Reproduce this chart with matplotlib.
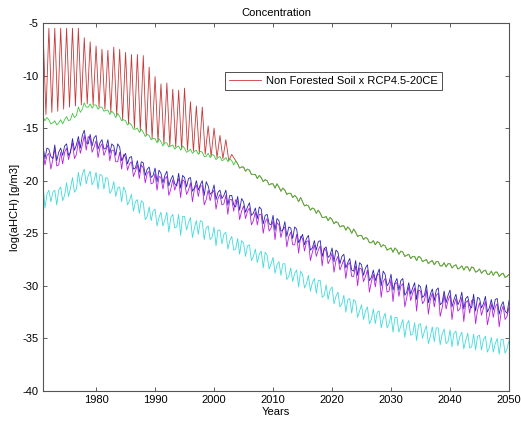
import numpy as np
import matplotlib
matplotlib.use("Agg")
import matplotlib.pyplot as plt

plt.rcParams['font.family'] = ['Liberation Sans', 'DejaVu Sans']
plt.rcParams['axes.unicode_minus'] = False

# years 1971..2050; three readings per year (high, low, middle)
years = np.arange(1971, 2051)

# Non Forested Soil (red): yearly spikes 1971..2003, troughs between them
red_peak_years = np.arange(1971, 2004)
red_peaks = [-5.5, -5.5, -5.5, -5.5, -5.5, -5.5, -5.5, -6.4, -6.8, -7.2,
             -7.5, -7.6, -7.3, -7.5, -7.8, -8.0, -8.0, -8.1, -9.2, -10.1,
             -10.8, -10.7, -11.3, -11.4, -11.2, -12.5, -12.9, -13.0, -14.8, -15.0,
             -15.7, -16.1, -17.5]
red_troughs = [-13.7, -13.5, -13.4, -13.2, -13.0, -12.9, -12.8, -12.7, -12.8, -13.0,
               -13.2, -13.5, -13.8, -14.2, -14.6, -15.0, -15.3, -15.7, -16.0, -16.3,
               -16.5, -16.7, -16.8, -17.0, -17.1, -17.2, -17.4, -17.5, -17.7, -17.8,
               -17.9, -18.1]

green_hi = [-13.9, -14.2, -14.3, -14.2, -13.9, -13.6, -13.0, -12.6, -12.7, -12.8,
            -13.0, -13.3, -13.6, -13.9, -14.3, -14.7, -15.0, -15.4, -15.7, -16.0,
            -16.3, -16.4, -16.6, -16.7, -16.9, -17.0, -17.1, -17.3, -17.4, -17.6,
            -17.7, -17.8, -18.1, -18.4, -18.7, -19.0, -19.4, -19.7, -20.0, -20.3,
            -20.6, -20.9, -21.2, -21.6, -22.0, -22.4, -22.7, -23.1, -23.4, -23.7,
            -24.0, -24.3, -24.6, -24.9, -25.2, -25.5, -25.7, -25.9, -26.2, -26.4,
            -26.6, -26.8, -27.0, -27.2, -27.3, -27.5, -27.6, -27.7, -27.8, -27.9,
            -28.0, -28.1, -28.2, -28.3, -28.4, -28.5, -28.6, -28.7, -28.8, -28.9]
green_lo = [-14.3, -14.6, -14.7, -14.6, -14.3, -14.0, -13.5, -13.0, -13.1, -13.2,
            -13.4, -13.7, -14.0, -14.3, -14.7, -15.1, -15.4, -15.8, -16.1, -16.4,
            -16.7, -16.8, -17.0, -17.1, -17.3, -17.4, -17.5, -17.7, -17.8, -18.0,
            -18.1, -18.2, -18.5, -18.8, -19.1, -19.4, -19.8, -20.1, -20.4, -20.7,
            -21.0, -21.3, -21.6, -22.0, -22.4, -22.8, -23.1, -23.5, -23.8, -24.1,
            -24.4, -24.7, -25.0, -25.3, -25.6, -25.9, -26.1, -26.3, -26.6, -26.8,
            -27.0, -27.2, -27.4, -27.6, -27.7, -27.9, -28.0, -28.1, -28.2, -28.3,
            -28.4, -28.5, -28.6, -28.7, -28.8, -28.9, -29.0, -29.1, -29.2, -29.3]
green_mid = [-14.0, -14.5, -14.5, -14.2, -14.2, -13.8, -13.2, -13.0, -12.8, -13.0,
             -13.3, -13.4, -13.6, -14.2, -14.5, -15.1, -15.1, -15.6, -16.0, -16.0,
             -16.4, -16.7, -16.8, -16.7, -17.2, -17.2, -17.2, -17.7, -17.5, -17.8,
             -18.0, -17.9, -18.1, -18.7, -18.9, -19.4, -19.5, -19.9, -20.3, -20.3,
             -20.7, -21.2, -21.4, -21.6, -22.3, -22.6, -22.8, -23.5, -23.5, -23.9,
             -24.3, -24.4, -24.6, -25.2, -25.4, -25.9, -25.8, -26.1, -26.5, -26.4,
             -26.7, -27.1, -27.2, -27.2, -27.6, -27.7, -27.7, -28.1, -27.9, -28.1,
             -28.3, -28.2, -28.2, -28.6, -28.6, -28.9, -28.7, -28.9, -29.1, -28.9]

blue_hi = [-16.7, -17.0, -16.6, -16.9, -16.5, -16.0, -15.8, -15.2, -15.6, -15.7,
           -16.1, -16.1, -16.7, -16.8, -17.4, -17.7, -18.1, -18.3, -18.7, -18.8,
           -19.3, -19.1, -19.5, -19.3, -19.7, -19.7, -20.0, -20.0, -20.5, -20.4,
           -20.9, -20.9, -21.4, -21.5, -22.0, -22.1, -22.6, -22.7, -23.2, -23.3,
           -23.8, -23.9, -24.5, -24.6, -25.1, -25.2, -25.7, -25.7, -26.3, -26.4,
           -26.8, -27.0, -27.4, -27.6, -28.0, -28.0, -28.5, -28.4, -28.9, -28.9,
           -29.3, -29.3, -29.7, -29.7, -30.1, -29.9, -30.3, -30.2, -30.5, -30.4,
           -30.8, -30.6, -31.0, -30.8, -31.2, -31.0, -31.3, -31.2, -31.5, -31.4]
blue_lo = [-17.9, -17.7, -18.1, -17.6, -17.6, -17.1, -16.9, -16.4, -16.7, -17.0,
           -17.0, -17.4, -17.6, -18.1, -18.4, -18.9, -19.2, -19.5, -19.7, -20.1,
           -20.2, -20.5, -20.3, -20.7, -20.6, -21.0, -20.9, -21.4, -21.3, -21.8,
           -21.7, -22.3, -22.3, -22.8, -23.0, -23.3, -23.6, -24.1, -24.1, -24.7,
           -24.8, -25.3, -25.5, -25.9, -26.1, -26.6, -26.6, -27.2, -27.3, -27.7,
           -27.9, -28.3, -28.5, -29.0, -29.0, -29.5, -29.5, -30.0, -30.0, -30.4,
           -30.4, -30.9, -30.8, -31.3, -31.1, -31.6, -31.4, -31.8, -31.6, -32.0,
           -31.8, -32.2, -31.9, -32.4, -32.1, -32.5, -32.3, -32.7, -32.4, -33.0]
blue_mid = [-16.9, -17.9, -17.3, -16.7, -17.3, -16.6, -15.7, -16.5, -15.9, -16.4,
            -16.9, -16.5, -16.5, -17.7, -17.8, -18.8, -18.2, -18.9, -19.5, -19.0,
            -19.5, -19.9, -20.5, -19.5, -19.8, -20.7, -20.4, -20.1, -21.1, -21.1,
            -21.4, -21.4, -22.5, -21.7, -22.5, -23.1, -22.5, -23.3, -24.2, -23.6,
            -24.7, -24.4, -24.4, -25.5, -25.5, -26.4, -25.8, -26.5, -27.1, -26.6,
            -27.2, -27.8, -28.6, -27.8, -28.3, -29.2, -28.9, -28.6, -29.7, -29.7,
            -29.5, -30.6, -30.2, -29.9, -30.9, -30.8, -30.4, -31.6, -30.9, -31.3,
            -31.4, -31.2, -32.1, -31.1, -31.7, -32.1, -31.3, -31.9, -32.6, -31.8]

magenta_hi = [-17.2, -17.4, -17.0, -17.3, -16.9, -16.4, -16.2, -15.7, -16.0, -16.2,
              -16.5, -16.6, -17.1, -17.3, -17.8, -18.2, -18.5, -18.8, -19.1, -19.3,
              -19.7, -19.6, -19.9, -19.8, -20.1, -20.2, -20.4, -20.5, -20.9, -20.9,
              -21.3, -21.4, -21.8, -22.0, -22.4, -22.6, -23.0, -23.2, -23.6, -23.8,
              -24.2, -24.4, -24.9, -25.1, -25.5, -25.7, -26.1, -26.2, -26.7, -26.9,
              -27.2, -27.5, -27.8, -28.1, -28.4, -28.5, -28.9, -28.9, -29.3, -29.4,
              -29.7, -29.8, -30.1, -30.2, -30.5, -30.4, -30.7, -30.7, -30.9, -30.9,
              -31.2, -31.1, -31.4, -31.3, -31.6, -31.5, -31.7, -31.7, -31.9, -32.0]
magenta_lo = [-18.5, -18.9, -18.6, -18.4, -18.0, -17.9, -17.4, -17.1, -17.3, -17.8,
              -17.6, -18.1, -18.2, -18.9, -19.0, -19.6, -19.8, -20.2, -20.3, -20.9,
              -20.8, -21.4, -20.9, -21.6, -21.3, -22.0, -21.5, -22.3, -21.9, -22.7,
              -22.3, -23.2, -22.9, -23.7, -23.6, -24.2, -24.2, -25.0, -24.8, -25.6,
              -25.4, -26.3, -26.1, -26.9, -26.7, -27.6, -27.2, -28.1, -27.9, -28.7,
              -28.5, -29.3, -29.1, -30.0, -29.6, -30.6, -30.1, -31.1, -30.6, -31.5,
              -31.0, -32.0, -31.4, -32.4, -31.7, -32.7, -32.0, -32.9, -32.2, -33.2,
              -32.4, -33.4, -32.6, -33.6, -32.8, -33.7, -33.0, -33.9, -33.2, -34.2]
magenta_mid = [-17.6, -18.0, -18.5, -17.3, -17.2, -17.5, -16.6, -15.8, -16.8, -16.8,
               -17.1, -17.1, -18.2, -17.5, -18.4, -19.1, -18.5, -19.3, -20.2, -19.6,
               -19.8, -20.8, -20.3, -19.9, -20.9, -20.8, -20.5, -21.8, -21.2, -21.7,
               -22.2, -21.8, -21.8, -22.9, -22.9, -23.8, -23.2, -23.9, -24.5, -24.0,
               -24.6, -25.3, -26.1, -25.3, -25.8, -26.8, -26.6, -26.4, -27.5, -27.6,
               -28.0, -28.0, -29.1, -28.3, -29.1, -29.6, -28.9, -29.6, -30.5, -29.8,
               -30.0, -31.1, -30.7, -30.4, -31.4, -31.3, -30.9, -32.1, -31.4, -31.8,
               -32.2, -31.6, -31.4, -32.3, -32.1, -32.8, -32.0, -32.5, -32.9, -32.2]

cyan_hi = [-20.3, -20.9, -20.9, -20.6, -20.2, -19.7, -19.2, -18.9, -19.1, -19.2,
           -19.5, -19.8, -20.1, -20.6, -21.0, -21.3, -21.8, -22.1, -22.5, -22.7,
           -23.0, -23.0, -23.2, -23.2, -23.4, -23.5, -23.8, -23.9, -24.3, -24.4,
           -24.7, -24.9, -25.3, -25.5, -25.9, -26.1, -26.5, -26.7, -27.1, -27.3,
           -27.7, -27.9, -28.3, -28.5, -28.9, -29.0, -29.3, -29.5, -29.9, -30.1,
           -30.6, -30.9, -31.2, -31.5, -31.8, -32.0, -32.2, -32.4, -32.6, -32.8,
           -33.0, -33.2, -33.3, -33.5, -33.6, -33.8, -33.9, -34.0, -34.1, -34.2,
           -34.3, -34.4, -34.5, -34.6, -34.7, -34.8, -34.9, -35.0, -35.1, -35.2]
cyan_lo = [-22.6, -22.0, -22.3, -21.9, -21.5, -21.1, -20.5, -20.3, -20.4, -20.8,
           -20.8, -21.2, -21.5, -22.0, -22.3, -22.9, -23.1, -23.7, -23.8, -24.3,
           -24.3, -24.9, -24.5, -25.2, -24.7, -25.4, -25.1, -25.6, -25.6, -26.2,
           -26.0, -26.5, -26.6, -27.0, -27.2, -27.6, -27.8, -28.3, -28.4, -28.8,
           -29.0, -29.4, -29.6, -30.1, -30.2, -30.5, -30.7, -31.1, -31.3, -31.7,
           -32.0, -32.5, -32.6, -33.0, -33.2, -33.6, -33.6, -34.0, -34.0, -34.4,
           -34.4, -34.9, -34.7, -35.2, -35.0, -35.5, -35.3, -35.6, -35.5, -35.8,
           -35.7, -36.0, -35.9, -36.1, -36.1, -36.3, -36.3, -36.5, -36.4, -37.0]
cyan_mid = [-21.3, -21.1, -20.9, -21.4, -20.7, -20.8, -19.4, -19.5, -20.0, -19.4,
            -19.7, -20.9, -20.7, -20.6, -21.9, -22.0, -21.9, -23.4, -22.9, -23.5,
            -23.7, -23.5, -24.4, -23.4, -24.0, -24.5, -23.8, -24.5, -25.4, -24.7,
            -25.1, -25.7, -26.5, -25.7, -26.2, -27.2, -27.0, -26.8, -27.9, -28.0,
            -27.9, -29.1, -28.8, -28.6, -29.8, -29.7, -29.5, -30.9, -30.4, -31.0,
            -31.7, -31.3, -31.3, -32.4, -32.4, -33.2, -32.5, -33.1, -33.6, -33.0,
            -33.8, -33.7, -34.6, -33.7, -34.3, -34.8, -34.0, -34.6, -35.3, -34.5,
            -34.8, -35.2, -35.8, -34.8, -35.1, -35.9, -35.5, -35.1, -36.0, -35.9]


def series(hi, lo, mid):
    # high reading at the start of the year, low a third in, middle two thirds in
    x = np.empty(3 * len(years))
    y = np.empty(3 * len(years))
    x[0::3] = years
    x[1::3] = years + 1 / 3
    x[2::3] = years + 2 / 3
    y[0::3] = hi
    y[1::3] = lo
    y[2::3] = mid
    return x, y


fig = plt.figure(figsize=(5.21, 4.23), dpi=100)
ax = fig.add_axes([0.0825, 0.0757, 0.8945, 0.870])

# red: spikes until 2003, then it runs underneath the green line
rx = np.empty(len(red_peaks) + len(red_troughs))
ry = np.empty_like(rx)
rx[0::2] = red_peak_years
rx[1::2] = red_peak_years[:-1] + 0.5
ry[0::2] = red_peaks
ry[1::2] = red_troughs
gx, gy = series(green_hi, green_lo, green_mid)
tail = gx > 2003.6
rx = np.concatenate([rx, gx[tail]])
ry = np.concatenate([ry, gy[tail]])

lw = 0.6
x, y = series(cyan_hi, cyan_lo, cyan_mid)
ax.plot(x, y, color='#3fdcdc', lw=lw)
x, y = series(magenta_hi, magenta_lo, magenta_mid)
ax.plot(x, y, color='#b51ee0', lw=lw)
x, y = series(blue_hi, blue_lo, blue_mid)
ax.plot(x, y, color='#2a22b4', lw=lw)
ax.plot(rx, ry, color='#c83838', lw=lw, label='Non Forested Soil x RCP4.5-20CE')
ax.plot(gx, gy, color='#3cc83c', lw=lw)

ax.set_xlim(1971, 2050)
ax.set_ylim(-40, -5)
ax.set_xticks([1980, 1990, 2000, 2010, 2020, 2030, 2040, 2050])
ax.set_yticks(np.arange(-40, -4, 5))
ax.tick_params(direction='in', length=3, width=0.6, labelsize=8, pad=3,
               top=True, right=True, colors='#444444', labelcolor='black')
for s in ax.spines.values():
    s.set_color('#555555')
    s.set_linewidth(0.8)

ax.set_title('Concentration', fontsize=8, pad=5)
ax.set_xlabel('Years', fontsize=8, labelpad=1)
ax.set_ylabel('log(aHCH) [g/m3]', fontsize=8, labelpad=2)

leg = ax.legend(loc='upper left', bbox_to_anchor=(0.3906, 0.8668), borderaxespad=0,
                fontsize=8, handlelength=2.9, handletextpad=0.45, borderpad=0.35,
                fancybox=False, framealpha=1)
leg.get_frame().set_edgecolor('#333333')
leg.get_frame().set_linewidth(0.6)

fig.savefig('out.png', dpi=100)
